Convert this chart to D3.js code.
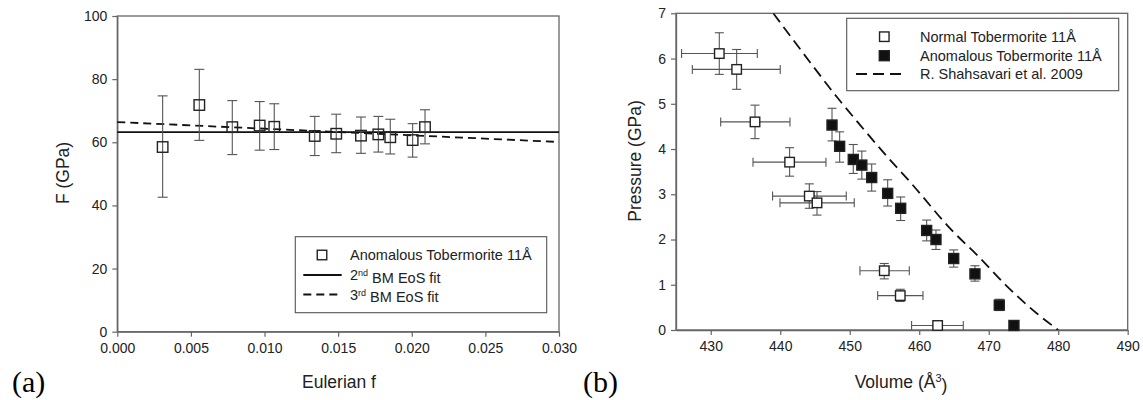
<!DOCTYPE html>
<html>
<head>
<meta charset="utf-8">
<script src="https://cdn.jsdelivr.net/npm/d3@7/dist/d3.min.js"></script>
<style>
  html, body { margin: 0; padding: 0; background: #fff; }
  svg { display: block; }
  text { font-family: "Liberation Sans", Arial, sans-serif; fill: #222; }
  .panel-tag { font-family: "Liberation Serif", "Times New Roman", serif; fill: #000; }
</style>
</head>
<body>
<svg id="chart" width="1143" height="400"></svg>
<script>
// ---- Panel (a): normalized pressure F vs Eulerian strain f ----
const eulerianF = [0.00308, 0.00557, 0.00781, 0.00967, 0.01066, 0.01341, 0.01487, 0.01655, 0.01773, 0.01854, 0.02006, 0.02090];
const normF     = [58.5, 71.8, 64.8, 65.3, 64.9, 62.0, 62.7, 62.1, 62.5, 61.6, 60.7, 64.8];
const normFHi   = [74.7, 83.1, 73.2, 72.9, 72.2, 68.2, 68.9, 68.0, 68.2, 67.3, 65.9, 70.3];
const normFLo   = [42.6, 60.6, 56.1, 57.5, 57.7, 55.8, 56.7, 56.5, 56.9, 56.3, 55.3, 59.5];
const fitF      = [0.000, 0.030];
const bm2F      = [63.2, 63.2];
const bm3F      = [66.4, 60.1];
const fTicks    = [0, 0.005, 0.010, 0.015, 0.020, 0.025, 0.030];
const FTicks    = [0, 20, 40, 60, 80, 100];

// ---- Panel (b): pressure vs unit-cell volume ----
const normalV   = [431.23, 433.73, 436.37, 441.35, 444.18, 445.29, 454.97, 457.27, 462.65];
const normalP   = [6.11, 5.76, 4.60, 3.71, 2.96, 2.81, 1.31, 0.76, 0.10];
const normalVLo = [425.80, 427.35, 431.43, 436.08, 438.90, 439.96, 451.47, 454.02, 458.90];
const normalVHi = [436.70, 440.00, 441.40, 446.58, 449.50, 450.65, 458.57, 460.54, 466.34];
const normalPLo = [5.65, 5.32, 4.23, 3.40, 2.69, 2.54, 1.13, 0.63, 0.10];
const normalPHi = [6.57, 6.20, 4.97, 4.03, 3.23, 3.06, 1.47, 0.90, 0.10];

const anomV     = [447.45, 448.55, 450.51, 451.74, 453.16, 455.46, 457.33, 461.07, 462.41, 464.96, 468.02, 471.52, 473.63];
const anomP     = [4.53, 4.06, 3.77, 3.645, 3.37, 3.02, 2.69, 2.20, 2.00, 1.58, 1.24, 0.55, 0.10];
const anomPLo   = [4.18, 3.71, 3.46, 3.335, 3.07, 2.74, 2.42, 1.97, 1.78, 1.39, 1.08, 0.43, 0.10];
const anomPHi   = [4.90, 4.38, 4.10, 3.955, 3.67, 3.32, 2.94, 2.43, 2.21, 1.77, 1.42, 0.68, 0.10];

const refV      = [439.0, 443.3, 448.1, 451.5, 455.8, 458.7, 460.1, 464.4, 468.3, 472.6, 476.9, 480.0];
const refP      = [7.00, 6.12, 5.16, 4.53, 3.76, 3.27, 3.02, 2.25, 1.66, 0.97, 0.37, 0.00];
const vTicks    = [430, 440, 450, 460, 470, 480, 490];
const pTicks    = [0, 1, 2, 3, 4, 5, 6, 7];

const svg = d3.select("#chart");
const AXIS = "#666";
const ERR = "#555";

function frame(g, x, y) {
  const [x0, x1] = x.range(), [y0, y1] = y.range();
  g.append("rect")
    .attr("x", x0).attr("y", y1)
    .attr("width", x1 - x0).attr("height", y0 - y1)
    .attr("fill", "none").attr("stroke", AXIS).attr("stroke-width", 1.3);
}

function axes(g, x, y, xt, yt, xfmt, yfmt) {
  const ax = g.append("g").attr("transform", `translate(0,${y.range()[0]})`)
    .call(d3.axisBottom(x).tickValues(xt).tickFormat(xfmt).tickSize(5).tickSizeOuter(0).tickPadding(6));
  const ay = g.append("g").attr("transform", `translate(${x.range()[0]},0)`)
    .call(d3.axisLeft(y).tickValues(yt).tickFormat(yfmt).tickSize(5).tickSizeOuter(0).tickPadding(5));
  [ax, ay].forEach(a => {
    a.select(".domain").attr("stroke", AXIS).attr("stroke-width", 1.3);
    a.selectAll(".tick line").attr("stroke", AXIS).attr("stroke-width", 1.2);
    a.selectAll(".tick text").attr("fill", "#333")
      .style("font-family", '"Liberation Sans", Arial, sans-serif').style("font-size", "14px");
  });
}

function vbar(g, x, y, xv, lo, hi, cap) {
  g.append("line").attr("x1", x(xv)).attr("x2", x(xv)).attr("y1", y(lo)).attr("y2", y(hi))
    .attr("stroke", ERR).attr("stroke-width", 1.1);
  [lo, hi].forEach(v => g.append("line")
    .attr("x1", x(xv) - cap).attr("x2", x(xv) + cap).attr("y1", y(v)).attr("y2", y(v))
    .attr("stroke", ERR).attr("stroke-width", 1.1));
}

function hbar(g, x, y, yv, lo, hi, cap) {
  g.append("line").attr("x1", x(lo)).attr("x2", x(hi)).attr("y1", y(yv)).attr("y2", y(yv))
    .attr("stroke", ERR).attr("stroke-width", 1.1);
  [lo, hi].forEach(v => g.append("line")
    .attr("x1", x(v)).attr("x2", x(v)).attr("y1", y(yv) - cap).attr("y2", y(yv) + cap)
    .attr("stroke", ERR).attr("stroke-width", 1.1));
}

function square(g, cx, cy, s, filled) {
  g.append("rect").attr("x", cx - s / 2).attr("y", cy - s / 2).attr("width", s).attr("height", s)
    .attr("fill", filled ? "#111" : "#fff").attr("stroke", "#222").attr("stroke-width", 1.4);
}

// ================= Panel (a) =================
const xa = d3.scaleLinear().domain([0, 0.030]).range([117.3, 559]);
const ya = d3.scaleLinear().domain([0, 100]).range([331.7, 16]);
const ga = svg.append("g");

axes(ga, xa, ya, fTicks, FTicks, d3.format(".3f"), d3.format("d"));
frame(ga, xa, ya);

const fitLine = d3.line().x(d => xa(d[0])).y(d => ya(d[1]));
ga.append("path").datum(fitF.map((f, i) => [f, bm2F[i]])).attr("d", fitLine)
  .attr("fill", "none").attr("stroke", "#111").attr("stroke-width", 1.8);
ga.append("path").datum(fitF.map((f, i) => [f, bm3F[i]])).attr("d", fitLine)
  .attr("fill", "none").attr("stroke", "#111").attr("stroke-width", 1.8).attr("stroke-dasharray", "8,5");

eulerianF.forEach((f, i) => vbar(ga, xa, ya, f, normFLo[i], normFHi[i], 5));
eulerianF.forEach((f, i) => square(ga, xa(f), ya(normF[i]), 10.5, false));
// hollow markers let the fit lines show through
ga.selectAll("rect").filter(function () { return d3.select(this).attr("fill") === "#fff"; })
  .attr("fill", "none");

// legend (a)
const la = ga.append("g");
la.append("rect").attr("x", 295.3).attr("y", 236.7).attr("width", 251.4).attr("height", 76)
  .attr("fill", "#fff").attr("stroke", "#555").attr("stroke-width", 1.1);
square(la, 322, 255, 9.5, false);
la.append("line").attr("x1", 303.3).attr("x2", 341.7).attr("y1", 275).attr("y2", 275)
  .attr("stroke", "#111").attr("stroke-width", 1.8);
la.append("line").attr("x1", 303.3).attr("x2", 341.7).attr("y1", 294.5).attr("y2", 294.5)
  .attr("stroke", "#111").attr("stroke-width", 1.8).attr("stroke-dasharray", "8,5");
la.append("text").attr("x", 350).attr("y", 255).attr("dy", "0.35em").style("font-size", "14.5px")
  .text("Anomalous Tobermorite 11Å");
const t2 = la.append("text").attr("x", 350).attr("y", 275).attr("dy", "0.35em").style("font-size", "14.5px");
t2.append("tspan").text("2");
t2.append("tspan").attr("dy", "-0.45em").style("font-size", "9px").text("nd");
t2.append("tspan").attr("dy", "0.45em").text(" BM EoS fit");
const t3 = la.append("text").attr("x", 350).attr("y", 294.5).attr("dy", "0.35em").style("font-size", "14.5px");
t3.append("tspan").text("3");
t3.append("tspan").attr("dy", "-0.45em").style("font-size", "9px").text("rd");
t3.append("tspan").attr("dy", "0.45em").text(" BM EoS fit");

ga.append("text").attr("x", 339).attr("y", 381.7).attr("dy", "0.35em").attr("text-anchor", "middle")
  .style("font-size", "17.5px").text("Eulerian f");
ga.append("text").attr("transform", "translate(62.5,173) rotate(-90)").attr("dy", "0.35em")
  .attr("text-anchor", "middle").style("font-size", "17.5px").text("F (GPa)");
ga.append("text").attr("class", "panel-tag").attr("x", 12).attr("y", 392).style("font-size", "30px").text("(a)");

// ================= Panel (b) =================
const xb = d3.scaleLinear().domain([425, 490]).range([676, 1127.7]);
const yb = d3.scaleLinear().domain([0, 7]).range([330, 13.3]);
const gb = svg.append("g");

axes(gb, xb, yb, vTicks, pTicks, d3.format("d"), d3.format("d"));
frame(gb, xb, yb);

svg.append("clipPath").attr("id", "clipB").append("rect")
  .attr("x", 676).attr("y", 13.3).attr("width", 451.7).attr("height", 316.7);

gb.append("path").datum(refV.map((v, i) => [v, refP[i]]))
  .attr("clip-path", "url(#clipB)")
  .attr("d", d3.line().curve(d3.curveMonotoneX).x(d => xb(d[0])).y(d => yb(d[1])))
  .attr("fill", "none").attr("stroke", "#111").attr("stroke-width", 1.8).attr("stroke-dasharray", "11,6");

normalV.forEach((v, i) => {
  hbar(gb, xb, yb, normalP[i], normalVLo[i], normalVHi[i], 4.5);
  vbar(gb, xb, yb, v, normalPLo[i], normalPHi[i], 4.5);
});
anomV.forEach((v, i) => vbar(gb, xb, yb, v, anomPLo[i], anomPHi[i], 4.5));
normalV.forEach((v, i) => square(gb, xb(v), yb(normalP[i]), 9.5, false));
anomV.forEach((v, i) => square(gb, xb(v), yb(anomP[i]), 10, true));

// legend (b)
const lb = gb.append("g");
lb.append("rect").attr("x", 846.7).attr("y", 18.3).attr("width", 272).attr("height", 72.4)
  .attr("fill", "#fff").attr("stroke", "#555").attr("stroke-width", 1.1);
square(lb, 884.3, 36.7, 9.5, false);
square(lb, 884.3, 55.7, 10, true);
lb.append("line").attr("x1", 856).attr("x2", 906).attr("y1", 74).attr("y2", 74)
  .attr("stroke", "#111").attr("stroke-width", 1.8).attr("stroke-dasharray", "11,6");
[["Normal Tobermorite 11Å", 36.7], ["Anomalous Tobermorite 11Å", 55.7], ["R. Shahsavari et al. 2009", 74]]
  .forEach(([t, yy]) => lb.append("text").attr("x", 920).attr("y", yy).attr("dy", "0.35em")
    .style("font-size", "14.5px").text(t));

const tv = gb.append("text").attr("x", 901).attr("y", 381.7).attr("dy", "0.35em").attr("text-anchor", "middle")
  .style("font-size", "17.5px");
tv.append("tspan").text("Volume (Å");
tv.append("tspan").attr("dy", "-0.5em").style("font-size", "11px").text("3");
tv.append("tspan").attr("dy", "0.5em").text(")");
gb.append("text").attr("transform", "translate(635,161) rotate(-90)").attr("dy", "0.35em")
  .attr("text-anchor", "middle").style("font-size", "17.5px").text("Pressure (GPa)");
gb.append("text").attr("class", "panel-tag").attr("x", 583).attr("y", 392).style("font-size", "30px").text("(b)");
</script>
</body>
</html>
